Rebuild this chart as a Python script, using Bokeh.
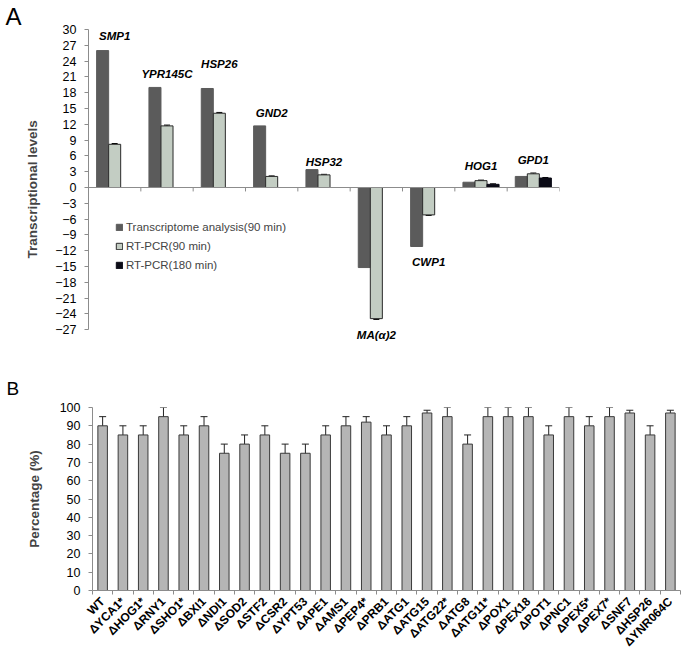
import math
from bokeh.plotting import figure
from bokeh.layouts import column
from bokeh.models import (ColumnDataSource, FixedTicker, Range1d, Legend, LegendItem,
                          Whisker, TeeHead, Span)
from bokeh.core.properties import value
from bokeh.embed import file_html
from bokeh.resources import INLINE

FONT = "Liberation Sans"

# ---------------- Panel A data ----------------
genes = ["SMP1", "YPR145C", "HSP26", "GND2", "HSP32", "MA(α)2", "CWP1", "HOG1", "GPD1"]
transcriptome_90 = [26.0, 19.0, 18.8, 11.7, 3.4, -15.2, -11.2, 1.0, 2.1]
rtpcr_90 = [8.2, 11.7, 14.1, 2.1, 2.4, -24.9, -5.2, 1.3, 2.6]
rtpcr_90_err = [0.15, 0.15, 0.15, 0.1, 0.1, 0.15, 0.1, 0.1, 0.15]
rtpcr_180_genes = ["HOG1", "GPD1"]
rtpcr_180 = [0.6, 1.8]
rtpcr_180_err = [0.1, 0.1]
label_y = [28.8, 21.6, 23.5, 14.2, 4.9, -28.1, -14.2, 4.0, 5.3]
yticks_a = list(range(-27, 31, 3))

# ---------------- Panel B data ----------------
strains = ["WT", "ΔYCA1*", "ΔHOG1*", "ΔRNY1", "ΔSHO1*", "ΔBXI1", "ΔNDI1", "ΔSOD2",
           "ΔSTF2", "ΔCSR2", "ΔYPT53", "ΔAPE1", "ΔAMS1", "ΔPEP4*", "ΔPRB1", "ΔATG1",
           "ΔATG15", "ΔATG22*", "ΔATG8", "ΔATG11*", "ΔPOX1", "ΔPEX18", "ΔPOT1", "ΔPNC1",
           "ΔPEX5*", "ΔPEX7*", "ΔSNF7", "ΔHSP26", "ΔYNR064C"]
percentage = [90, 85, 85, 95, 85, 90, 75, 80, 85, 75, 75, 85, 90, 92, 85, 90,
              97, 95, 80, 95, 95, 95, 85, 95, 90, 95, 97, 85, 97]
percentage_err = [5, 5, 5, 5, 5, 5, 5, 5, 5, 5, 5, 5, 5, 3, 5, 5,
                  1.5, 5, 5, 5, 5, 5, 5, 5, 5, 5, 1.5, 5, 1.5]
yticks_b = list(range(0, 101, 10))

# ---------------- Panel A ----------------
n_a = len(genes)
idx = {g: i for i, g in enumerate(genes)}
bw = 0.23

p1 = figure(width=685, height=360, x_range=Range1d(0, n_a), y_range=Range1d(-30, 30),
            output_backend="svg", toolbar_location=None, x_axis_location=None,
            min_border_left=88, min_border_right=126, min_border_top=29, min_border_bottom=15,
            title="A")
p1.frame_align = False
p1.outline_line_color = None
p1.grid.visible = False
p1.title.align = "left"
p1.title.offset = -83
p1.title.standoff = 0
p1.title.text_font = FONT
p1.title.text_font_size = "24px"
p1.title.text_font_style = "normal"
p1.title.text_color = "black"

src_t = ColumnDataSource(dict(x=[i + 0.5 - bw for i in range(n_a)], top=transcriptome_90))
src_r = ColumnDataSource(dict(x=[i + 0.5 for i in range(n_a)], top=rtpcr_90,
                              up=[v + e if v >= 0 else v - e for v, e in zip(rtpcr_90, rtpcr_90_err)],
                              lo=rtpcr_90))
src_b = ColumnDataSource(dict(x=[idx[g] + 0.5 + bw for g in rtpcr_180_genes], top=rtpcr_180,
                              up=[v + e for v, e in zip(rtpcr_180, rtpcr_180_err)], lo=rtpcr_180))

r_t = p1.vbar(x="x", top="top", bottom=0, width=bw, source=src_t,
              fill_color="#5b5b5b", line_color="#5b5b5b")
r_r = p1.vbar(x="x", top="top", bottom=0, width=bw, source=src_r,
              fill_color="#c3cdc3", line_color="#2a2a2a", line_width=1)
r_b = p1.vbar(x="x", top="top", bottom=0, width=bw, source=src_b,
              fill_color="#0b0b16", line_color="#0b0b16")

for s in (src_r, src_b):
    p1.add_layout(Whisker(source=s, base="x", upper="up", lower="lo", dimension="height",
                          line_color="black", line_width=1,
                          upper_head=TeeHead(size=6, line_color="black", line_width=1),
                          lower_head=TeeHead(size=1, line_alpha=0)))

# zero axis line with category boundary ticks
p1.add_layout(Span(location=0, dimension="width", line_color="#8c8c8c", line_width=1))
p1.segment(x0=list(range(1, n_a + 1)), x1=list(range(1, n_a + 1)),
           y0=[0] * n_a, y1=[-0.75] * n_a, line_color="#8c8c8c", line_width=1)

# gene labels
p1.text(x=[i + 0.5 for i in range(n_a)], y=label_y, text=genes,
        text_font=value(FONT), text_font_style="bold italic", text_font_size="11.5px",
        text_align="center", text_baseline="middle", text_color="black")

ya = p1.yaxis[0]
ya.bounds = (-27, 30)
ya.ticker = FixedTicker(ticks=yticks_a, minor_ticks=[])
ya.axis_label = "Transcriptional  levels"
ya.axis_label_text_font = FONT
ya.axis_label_text_font_style = "bold"
ya.axis_label_text_font_size = "13.5px"
ya.axis_label_standoff = 12
ya.major_label_text_font = FONT
ya.major_label_text_font_size = "12.5px"
ya.major_label_text_color = "black"
ya.major_label_standoff = 8
ya.axis_line_color = "#8c8c8c"
ya.major_tick_line_color = "#8c8c8c"
ya.major_tick_out = 4
ya.major_tick_in = 0

legend = Legend(items=[LegendItem(label="Transcriptome analysis(90 min)", renderers=[r_t]),
                       LegendItem(label="RT-PCR(90 min)", renderers=[r_r]),
                       LegendItem(label="RT-PCR(180 min)", renderers=[r_b])],
                location=(27, 72), orientation="vertical",
                glyph_width=8, glyph_height=8, label_height=16, spacing=3,
                label_standoff=3, padding=0, margin=0,
                label_text_font=FONT, label_text_font_size="11.5px",
                border_line_alpha=0, background_fill_alpha=0)
p1.add_layout(legend)

# ---------------- Panel B ----------------
n_b = len(strains)
p2 = figure(width=685, height=296, x_range=Range1d(-0.5, n_b - 0.5), y_range=Range1d(0, 100),
            output_backend="svg", toolbar_location=None,
            min_border_left=92, min_border_right=5, min_border_top=47, min_border_bottom=63,
            title="B")
p2.frame_align = False
p2.outline_line_color = None
p2.grid.visible = False
p2.title.align = "left"
p2.title.offset = -86
p2.title.standoff = 17
p2.title.text_font = FONT
p2.title.text_font_size = "19px"
p2.title.text_font_style = "normal"
p2.title.text_color = "black"

src2 = ColumnDataSource(dict(x=list(range(n_b)), top=percentage,
                             up=[v + e for v, e in zip(percentage, percentage_err)],
                             lo=[v - e for v, e in zip(percentage, percentage_err)]))
p2.vbar(x="x", top="top", bottom=0, width=0.47, source=src2,
        fill_color="#b5b5b5", line_color="#3a3a3a", line_width=1)
p2.add_layout(Whisker(source=src2, base="x", upper="up", lower="lo", dimension="height",
                      line_color="#222222", line_width=1,
                      upper_head=TeeHead(size=7, line_color="#222222", line_width=1),
                      lower_head=TeeHead(size=7, line_color="#222222", line_width=1)))

xb = p2.xaxis[0]
xb.ticker = FixedTicker(ticks=list(range(n_b)), minor_ticks=[i + 0.5 for i in range(-1, n_b)])
xb.major_label_overrides = {i: s for i, s in enumerate(strains)}
xb.major_label_orientation = math.pi / 4
xb.major_label_text_font = FONT
xb.major_label_text_font_style = "bold"
xb.major_label_text_font_size = "12px"
xb.major_label_text_color = "black"
xb.major_label_standoff = 5
xb.major_tick_out = 0
xb.major_tick_in = 0
xb.minor_tick_out = 4
xb.minor_tick_in = 0
xb.minor_tick_line_color = "#8c8c8c"
xb.axis_line_color = "#8c8c8c"

yb = p2.yaxis[0]
yb.ticker = FixedTicker(ticks=yticks_b, minor_ticks=[])
yb.axis_label = "Percentage (%)"
yb.axis_label_text_font = FONT
yb.axis_label_text_font_style = "bold"
yb.axis_label_text_font_size = "13.5px"
yb.axis_label_standoff = 15
yb.major_label_text_font = FONT
yb.major_label_text_font_size = "12.5px"
yb.major_label_text_color = "black"
yb.major_label_standoff = 8
yb.axis_line_color = "#8c8c8c"
yb.major_tick_line_color = "#8c8c8c"
yb.major_tick_out = 4
yb.major_tick_in = 0

layout = column(p1, p2)
open("out.html", "w").write(file_html(layout, INLINE))
